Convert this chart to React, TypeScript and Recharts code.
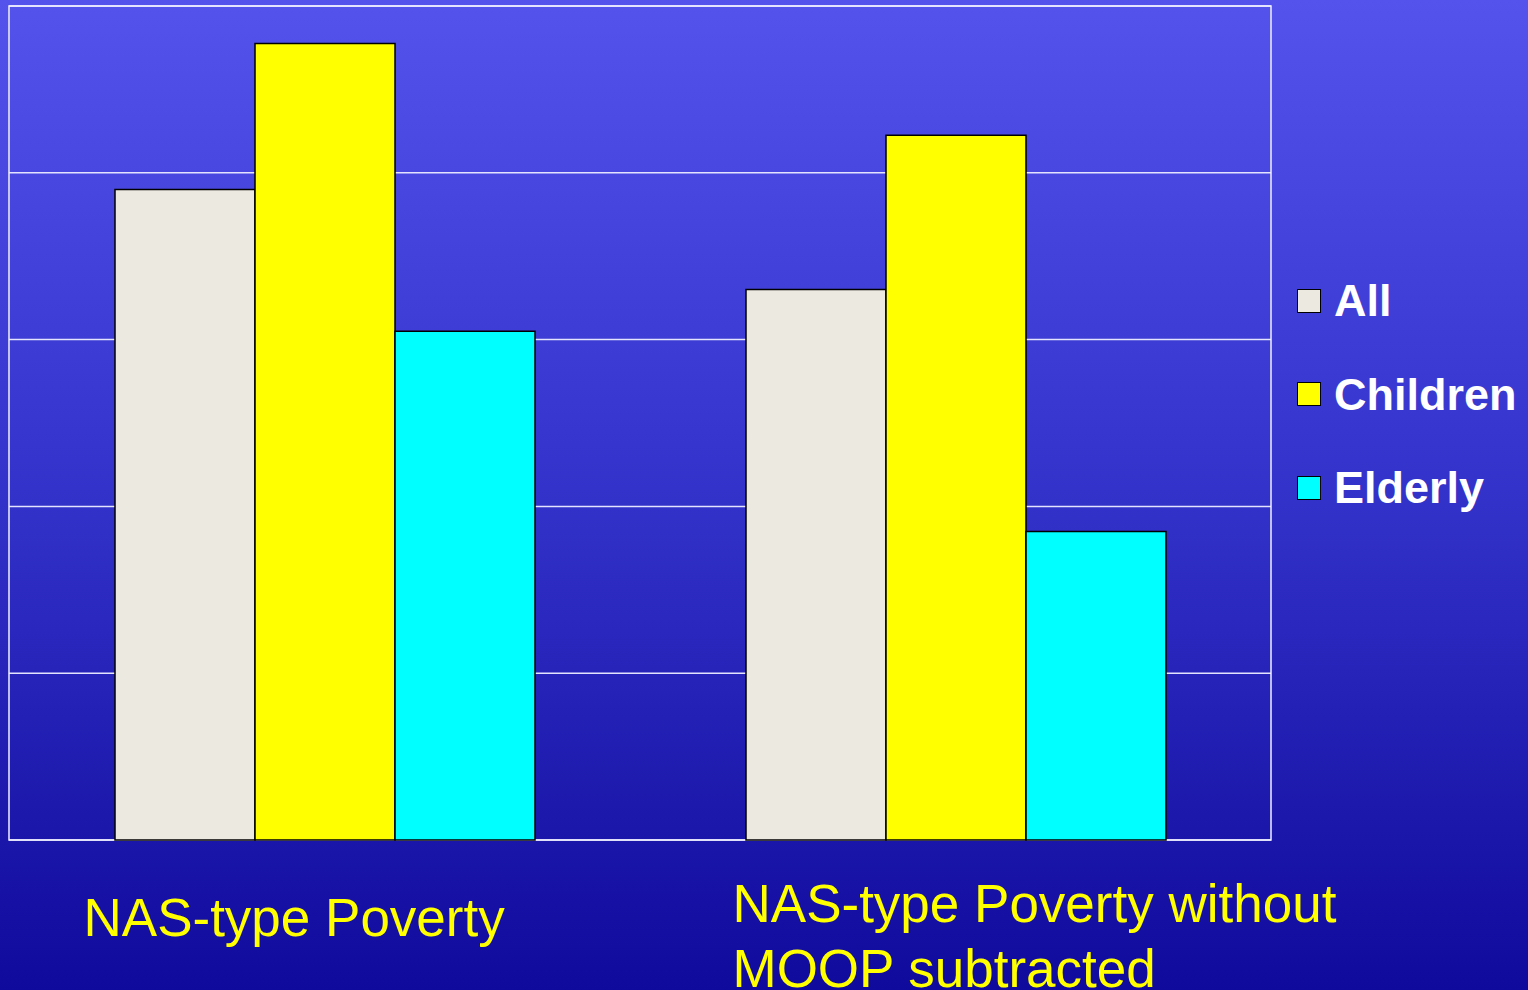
import { Bar, BarChart, CartesianGrid, Legend, ReferenceArea, XAxis, YAxis } from "recharts"

const categories = ["NAS-type Poverty", "NAS-type Poverty without\nMOOP subtracted"]
const allValues = [15.6, 13.2]
const childrenValues = [19.1, 16.9]
const elderlyValues = [12.2, 7.4]
const yTicks = [0, 4, 8, 12, 16, 20]

const data = categories.map((name, i) => ({
  name,
  all: allValues[i],
  children: childrenValues[i],
  elderly: elderlyValues[i],
}))

// the category labels were free text boxes on the slide, not centered under the groups
const labelShift = [-241, -223]
const labelBaseline = [96, 82]

const font = "'Liberation Sans', Arial, sans-serif"

function CategoryTick(props: any) {
  const { x, y, payload, index } = props
  const lines = String(payload.value).split("\n")
  return (
    <text x={x + labelShift[index]} y={y + labelBaseline[index]} fill="#FFFF00" fontSize={53} fontFamily={font} textAnchor="start">
      {lines.map((line, i) => (
        <tspan key={i} x={x + labelShift[index]} dy={i === 0 ? 0 : 65}>
          {line}
        </tspan>
      ))}
    </text>
  )
}

function LegendBox(props: any) {
  const { payload } = props
  return (
    <div style={{ fontFamily: font }}>
      {(payload || []).map((item: any) => (
        <div key={item.value} style={{ display: "flex", alignItems: "center", height: 93.5 }}>
          <div
            style={{
              width: 22,
              height: 22,
              background: item.color,
              border: "1.5px solid #000",
              marginRight: 13,
            }}
          />
          <span style={{ color: "#fff", fontWeight: "bold", fontSize: 45, lineHeight: "93.5px" }}>{item.value}</span>
        </div>
      ))}
    </div>
  )
}

export default function App() {
  return (
    <div
      style={{
        position: "absolute",
        left: 0,
        top: 0,
        width: 1528,
        height: 990,
        background: "linear-gradient(to bottom, #5454EC 0%, #3636CE 45%, #100A9C 100%)",
        overflow: "hidden",
      }}
    >
      <BarChart
        width={1528}
        height={990}
        data={data}
        margin={{ top: 6, right: 25, left: 9, bottom: 0 }}
        barGap={0}
        barSize={140}
      >
        <CartesianGrid vertical={false} stroke="#E4E4FF" strokeWidth={1.5} />
        <ReferenceArea y1={0} y2={20} fill="none" stroke="#F0F0FF" strokeWidth={1.5} />
        <XAxis
          dataKey="name"
          height={150}
          axisLine={false}
          tickLine={false}
          tickSize={0}
          tickMargin={0}
          interval={0}
          tick={<CategoryTick />}
        />
        <YAxis hide domain={[0, 20]} ticks={yTicks} />
        <Legend
          layout="vertical"
          align="right"
          verticalAlign="top"
          content={<LegendBox />}
          wrapperStyle={{ position: "absolute", left: 1297, top: 254, width: 232 }}
        />
        <Bar dataKey="all" name="All" fill="#ECE9E0" stroke="#000" strokeWidth={1.5} isAnimationActive={false} />
        <Bar dataKey="children" name="Children" fill="#FFFF00" stroke="#000" strokeWidth={1.5} isAnimationActive={false} />
        <Bar dataKey="elderly" name="Elderly" fill="#00FFFF" stroke="#000" strokeWidth={1.5} isAnimationActive={false} />
      </BarChart>
    </div>
  )
}
